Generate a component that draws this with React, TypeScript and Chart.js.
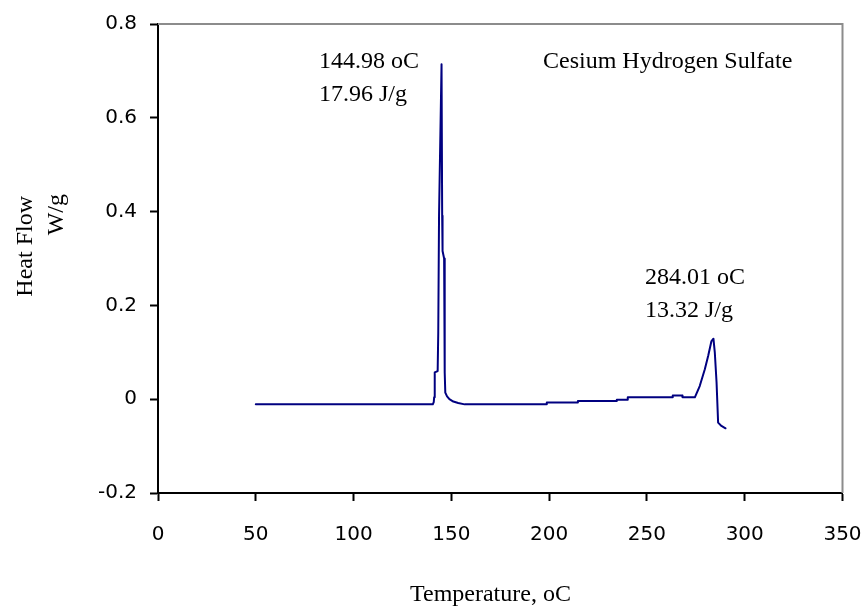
import React, { useEffect, useRef } from "react";
import { Chart, registerables } from "chart.js";

Chart.register(...registerables);

// Temperature (°C) of each sample on the DSC curve
const temperatures = [
  50, 140.5, 141.0, 141.2, 141.5, 143.0, 143.3, 143.7, 144.98, 145.3, 145.5, 146.3, 146.6, 146.9,
  147.8, 149.0, 151.0, 153.5, 156.8, 198.6, 198.8, 214.5, 214.7, 234.4, 234.6, 240.0, 240.2,
  263.0, 263.2, 268.0, 268.2, 274.5, 277.0, 279.6, 281.3, 283.0, 284.01, 284.7, 285.6, 286.4,
  288.1, 290.2,
];
// Heat flow (W/g) at each temperature
const heatFlow = [
  -0.011, -0.011, -0.006, 0.004, 0.057, 0.06, 0.142, 0.391, 0.714, 0.391, 0.316, 0.3, 0.057, 0.014,
  0.006, 0.0, -0.005, -0.008, -0.011, -0.011, -0.007, -0.007, -0.004, -0.004, -0.001, -0.001, 0.004,
  0.004, 0.008, 0.008, 0.004, 0.004, 0.028, 0.064, 0.092, 0.124, 0.129, 0.1, 0.036, -0.05,
  -0.057, -0.062,
];

const xTicks = [0, 50, 100, 150, 200, 250, 300, 350];
const yTicks = [-0.2, 0, 0.2, 0.4, 0.6, 0.8];

const chartTitle = "Cesium Hydrogen Sulfate";
const peak1Lines = ["144.98 oC", "17.96 J/g"];
const peak2Lines = ["284.01 oC", "13.32 J/g"];
const xTitle = "Temperature, oC";
const yTitleLines = ["Heat Flow", "W/g"];

const SERIF = "'Liberation Serif', 'Times New Roman', serif";
const SANS = "'DejaVu Sans', Tahoma, sans-serif";

export default function App() {
  const ref = useRef<HTMLCanvasElement | null>(null);

  useEffect(() => {
    if (!ref.current) return;
    const textPlugin = {
      id: "texts",
      afterDraw(chart: any) {
        const ctx = chart.ctx as CanvasRenderingContext2D;
        const a = chart.chartArea;
        ctx.save();
        // top and right frame lines
        ctx.strokeStyle = "#8c8c8c";
        ctx.lineWidth = 2;
        ctx.beginPath();
        ctx.moveTo(a.left, a.top);
        ctx.lineTo(a.right, a.top);
        ctx.lineTo(a.right, a.bottom);
        ctx.stroke();

        ctx.fillStyle = "#000";
        ctx.font = `24px ${SERIF}`;
        ctx.textBaseline = "alphabetic";
        ctx.textAlign = "left";
        ctx.fillText(peak1Lines[0], 319, 68);
        ctx.fillText(peak1Lines[1], 319, 101);
        ctx.fillText(chartTitle, 543, 68);
        ctx.fillText(peak2Lines[0], 645, 284);
        ctx.fillText(peak2Lines[1], 645, 317);
        ctx.fillText(xTitle, 410, 601);

        ctx.save();
        ctx.translate(32, 196);
        ctx.rotate(-Math.PI / 2);
        ctx.textAlign = "right";
        ctx.fillText(yTitleLines[0], 0, 0);
        ctx.restore();
        ctx.save();
        ctx.translate(63, 194);
        ctx.rotate(-Math.PI / 2);
        ctx.textAlign = "right";
        ctx.fillText(yTitleLines[1], 0, 0);
        ctx.restore();
        ctx.restore();
      },
    };

    const chart = new Chart(ref.current, {
      type: "line",
      data: {
        datasets: [
          {
            data: temperatures.map((t, i) => ({ x: t, y: heatFlow[i] })),
            borderColor: "#000080",
            borderWidth: 2,
            borderJoinStyle: "round",
            borderCapStyle: "round",
            pointRadius: 0,
            tension: 0,
            fill: false,
          },
        ],
      },
      options: {
        responsive: false,
        animation: false,
        layout: { padding: { left: 0, right: 20.5, top: 24, bottom: 0 } },
        plugins: { legend: { display: false }, tooltip: { enabled: false } },
        scales: {
          x: {
            type: "linear",
            min: 0,
            max: 350,
            afterBuildTicks: (s: any) => {
              s.ticks = xTicks.map((v) => ({ value: v }));
            },
            afterFit: (s: any) => {
              s.height = 114;
              s.paddingLeft = 0;
              s.paddingRight = 0;
            },
            grid: { drawOnChartArea: false, drawTicks: true, tickLength: 8, tickColor: "#000", tickWidth: 2 },
            border: { color: "#000", width: 2 },
            ticks: { color: "#000", padding: 22, maxRotation: 0, font: { family: SANS, size: 20 } },
          },
          y: {
            type: "linear",
            min: -0.2,
            max: 0.8,
            afterBuildTicks: (s: any) => {
              s.ticks = yTicks.map((v) => ({ value: v }));
            },
            afterFit: (s: any) => {
              s.width = 158;
              s.paddingTop = 0;
              s.paddingBottom = 0;
            },
            grid: { drawOnChartArea: false, drawTicks: true, tickLength: 8, tickColor: "#000", tickWidth: 2 },
            border: { color: "#000", width: 2 },
            ticks: {
              color: "#000",
              padding: 13,
              font: { family: SANS, size: 20 },
              callback: (v: any) => String(Math.round(Number(v) * 10) / 10),
            },
          },
        },
      },
      plugins: [textPlugin],
    });
    return () => chart.destroy();
  }, []);

  return (
    <div style={{ position: "absolute", left: 0, top: 0, width: 863, height: 607, background: "#fff" }}>
      <canvas ref={ref} width={863} height={607} style={{ display: "block" }} />
    </div>
  );
}
